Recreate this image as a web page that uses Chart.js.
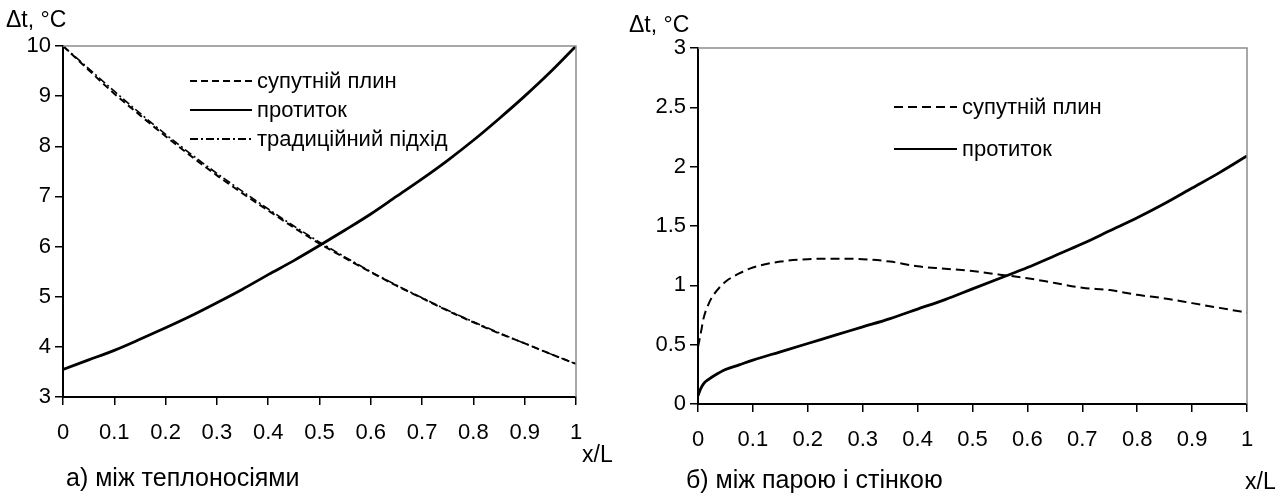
<!DOCTYPE html>
<html>
<head>
<meta charset="utf-8">
<script src="https://cdn.jsdelivr.net/npm/chart.js@4"></script>
<style>
    body { margin: 0; background: #fff; }
    .wrap { position: relative; width: 1285px; height: 497px; overflow: hidden; font-family: 'Liberation Sans', Arial, sans-serif; }
    .box { position: absolute; top: 0; height: 497px; }
    .lbl { position: absolute; color: #000; white-space: nowrap; line-height: 1; }
</style>
</head>
<body>
<div class="wrap">
    <div class="box" style="left:0;width:640px"><canvas id="chartA"></canvas></div>
    <div class="box" style="left:640px;width:645px"><canvas id="chartB"></canvas></div>

    <div class="lbl" style="left:6px;top:8px;font-size:23px">Δt, °C</div>
    <div class="lbl" style="left:582px;top:443px;font-size:23px">x/L</div>
    <div class="lbl" style="left:66px;top:465px;font-size:25px">а) між теплоносіями</div>

    <div class="lbl" style="left:629px;top:13px;font-size:23px">Δt, °C</div>
    <div class="lbl" style="left:1245px;top:470px;font-size:23px">x/L</div>
    <div class="lbl" style="left:686px;top:467px;font-size:25px">б) між парою і стінкою</div>
</div>

<script>
// Chart a) між теплоносіями
const xA = [0, 0.05, 0.1, 0.15, 0.2, 0.25, 0.3, 0.35, 0.4, 0.45, 0.5, 0.55, 0.6, 0.65, 0.7, 0.75, 0.8, 0.85, 0.9, 0.95, 1];
const coflowA = [10, 9.52, 9.05, 8.62, 8.2, 7.8, 7.42, 7.06, 6.72, 6.38, 6.06, 5.77, 5.49, 5.22, 4.97, 4.72, 4.49, 4.27, 4.07, 3.86, 3.66];
const counterA = [3.55, 3.74, 3.93, 4.15, 4.38, 4.62, 4.88, 5.15, 5.44, 5.72, 6.02, 6.33, 6.65, 7.0, 7.35, 7.72, 8.12, 8.55, 9.0, 9.48, 10];
const traditionalA = [10, 9.55, 9.1, 8.66, 8.24, 7.84, 7.46, 7.1, 6.75, 6.41, 6.09, 5.79, 5.5, 5.23, 4.98, 4.73, 4.5, 4.28, 4.07, 3.86, 3.66];

// Chart б) між парою і стінкою
const xCoflowB = [0, 0.003, 0.006, 0.01, 0.02, 0.03, 0.05, 0.075, 0.1, 0.15, 0.2, 0.25, 0.3, 0.35, 0.4, 0.45, 0.5, 0.55, 0.6, 0.65, 0.7, 0.75, 0.8, 0.85, 0.9, 0.95, 1];
const coflowB = [0.48, 0.55, 0.62, 0.72, 0.85, 0.93, 1.03, 1.1, 1.15, 1.2, 1.22, 1.225, 1.22, 1.2, 1.16, 1.14, 1.12, 1.09, 1.06, 1.02, 0.98, 0.96, 0.92, 0.89, 0.85, 0.81, 0.77];
const xCounterB = [0, 0.005, 0.01, 0.02, 0.03, 0.05, 0.075, 0.1, 0.15, 0.2, 0.25, 0.3, 0.35, 0.4, 0.45, 0.5, 0.55, 0.6, 0.65, 0.7, 0.75, 0.8, 0.85, 0.9, 0.95, 1];
const counterB = [0.07, 0.13, 0.17, 0.21, 0.24, 0.29, 0.33, 0.37, 0.44, 0.51, 0.58, 0.65, 0.72, 0.8, 0.88, 0.97, 1.06, 1.15, 1.25, 1.35, 1.46, 1.57, 1.69, 1.82, 1.95, 2.09];

const legendA = ['супутній плин', 'протиток', 'традиційний підхід'];
const legendB = ['супутній плин', 'протиток'];

const FONT = { family: "'Liberation Sans', Arial, sans-serif", size: 22 };

const pts = (xs, ys) => xs.map((x, i) => ({ x, y: ys[i] }));

// gray top/right frame + legend drawn inside plot
const framePlugin = {
    id: 'frameLegend',
    afterDraw(chart, args, opts) {
        const { ctx, chartArea: a } = chart;
        ctx.save();
        ctx.strokeStyle = '#8c8c8c';
        ctx.lineWidth = 1.5;
        ctx.beginPath();
        ctx.moveTo(a.left, a.top);
        ctx.lineTo(a.right, a.top);
        ctx.lineTo(a.right, a.bottom);
        ctx.stroke();

        ctx.font = `${FONT.size}px ${FONT.family}`;
        ctx.fillStyle = '#000';
        ctx.textBaseline = 'middle';
        chart.data.datasets.forEach((ds, i) => {
            const y = a.top + opts.top + i * opts.gap;
            const x0 = a.left + opts.left;
            ctx.strokeStyle = '#000';
            ctx.lineWidth = 2;
            ctx.setLineDash(ds.borderDash || []);
            ctx.beginPath();
            ctx.moveTo(x0, y);
            ctx.lineTo(x0 + opts.len, y);
            ctx.stroke();
            ctx.setLineDash([]);
            ctx.fillText(ds.label, x0 + opts.len + 5, y + 1);
        });
        ctx.restore();
    }
};

function axes(xMin, xMax, yMin, yMax, yStep, yWidth, xHeight) {
    const base = {
        type: 'linear',
        grid: { drawOnChartArea: false, drawTicks: true, tickLength: 8, color: '#000', lineWidth: 1.5 },
        border: { color: '#000', width: 2 },
    };
    return {
        x: {
            ...base,
            min: xMin, max: xMax,
            ticks: { stepSize: 0.1, color: '#000', font: FONT, padding: 15, maxRotation: 0,
                     callback: v => String(+v.toFixed(1)) },
            afterFit: s => { s.height = xHeight; }
        },
        y: {
            ...base,
            min: yMin, max: yMax,
            ticks: { stepSize: yStep, color: '#000', font: FONT, padding: 4,
                     callback: v => String(+v.toFixed(1)) },
            afterFit: s => { s.width = yWidth; }
        }
    };
}

new Chart(document.getElementById('chartA'), {
    type: 'line',
    data: {
        datasets: [
            { label: legendA[0], data: pts(xA, coflowA), borderColor: '#000', borderWidth: 2, borderDash: [7, 4], pointRadius: 0, cubicInterpolationMode: 'monotone' },
            { label: legendA[1], data: pts(xA, counterA), borderColor: '#000', borderWidth: 2.8, pointRadius: 0, cubicInterpolationMode: 'monotone' },
            { label: legendA[2], data: pts(xA, traditionalA), borderColor: '#000', borderWidth: 1.6, borderDash: [8, 3, 2, 3], pointRadius: 0, cubicInterpolationMode: 'monotone' }
        ]
    },
    options: {
        responsive: true,
        maintainAspectRatio: false,
        animation: false,
        layout: { padding: { left: 0, top: 46, right: 64, bottom: 40 } },
        plugins: { legend: { display: false }, tooltip: { enabled: false },
                   frameLegend: { left: 127, top: 35, gap: 29, len: 62 } },
        scales: axes(0, 1, 3, 10, 1, 63, 60)
    },
    plugins: [framePlugin]
});

new Chart(document.getElementById('chartB'), {
    type: 'line',
    data: {
        datasets: [
            { label: legendB[0], data: pts(xCoflowB, coflowB), borderColor: '#000', borderWidth: 2, borderDash: [9, 5], pointRadius: 0, cubicInterpolationMode: 'monotone' },
            { label: legendB[1], data: pts(xCounterB, counterB), borderColor: '#000', borderWidth: 2.8, pointRadius: 0, cubicInterpolationMode: 'monotone' }
        ]
    },
    options: {
        responsive: true,
        maintainAspectRatio: false,
        animation: false,
        layout: { padding: { left: 0, top: 48, right: 38, bottom: 33 } },
        plugins: { legend: { display: false }, tooltip: { enabled: false },
                   frameLegend: { left: 196, top: 59, gap: 42, len: 63 } },
        scales: axes(0, 1, 0, 3, 0.5, 58, 60)
    },
    plugins: [framePlugin]
});
</script>
</body>
</html>
